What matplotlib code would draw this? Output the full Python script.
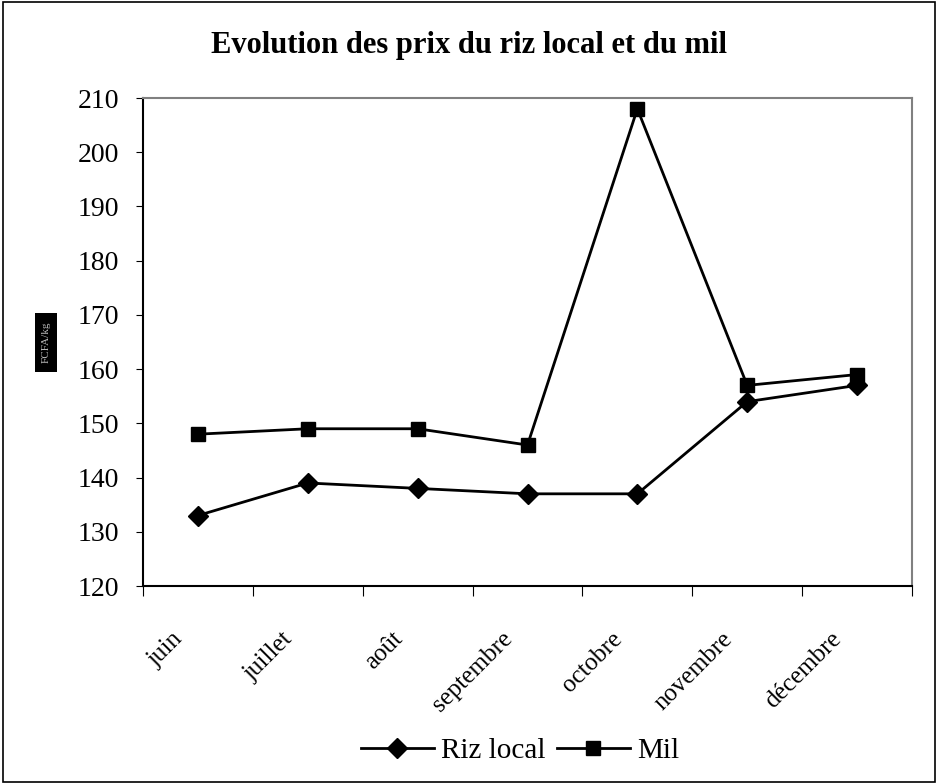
#!/usr/bin/env python3
import matplotlib.pyplot as plt
import numpy as np

# data
mois = ["juin", "juillet", "août", "septembre", "octobre", "novembre", "décembre"]
riz_local = [133, 139, 138, 137, 137, 154, 157]
mil = [148, 149, 149, 146, 208, 157, 159]
y_ticks = [120, 130, 140, 150, 160, 170, 180, 190, 200, 210]

plt.rcParams["font.family"] = ["Liberation Serif", "DejaVu Serif"]

W, H = 938, 784
fig = plt.figure(figsize=(W / 100, H / 100), dpi=100)
ax = fig.add_axes([143 / W, 1 - 586 / H, (912 - 143) / W, (586 - 98) / H])

x = np.arange(len(mois)) + 0.5
ax.plot(x, riz_local, color="black", lw=2, marker="D", ms=10, label="Riz local")
ax.plot(x, mil, color="black", lw=2, marker="s", ms=10, label="Mil")

ax.set_xlim(0, len(mois))
ax.set_ylim(120, 210)
ax.set_yticks(y_ticks)
ax.tick_params(axis="y", labelsize=20, direction="out", length=5, pad=12, color="black")
ax.set_xticks(np.arange(len(mois) + 1))
ax.set_xticklabels([])
ax.tick_params(axis="x", direction="out", length=7, color="black")
for xi, m in zip(x, mois):
    ax.text(xi - 0.24, 112.3, m, rotation=45, ha="right", va="top", fontsize=18,
            rotation_mode="anchor")

for s in ["top", "right"]:
    ax.spines[s].set_color("#808080")
    ax.spines[s].set_linewidth(1.5)
for s in ["left", "bottom"]:
    ax.spines[s].set_color("black")
    ax.spines[s].set_linewidth(1.5)

fig.text(0.5, 1 - 45 / H, "Evolution des prix du riz local et du mil",
         ha="center", va="center", fontsize=22, fontweight="bold")

# garbled axis title in the source, kept as a small dark box
fig.add_artist(plt.Rectangle((35 / W, 1 - 372 / H), 22 / W, 59 / H, transform=fig.transFigure,
                             facecolor="black", edgecolor="none"))
fig.text(46 / W, 1 - 342 / H, "FCFA/kg", rotation=90, ha="center", va="center",
         fontsize=8, color="#bbbbbb")

fig.legend(loc="center", bbox_to_anchor=(520 / W, 1 - 751 / H), ncol=2, frameon=False,
           fontsize=21, handlelength=2.5, columnspacing=0.38, handletextpad=0.25)

# outer frame round the whole chart
fig.add_artist(plt.Rectangle((0.003, 0.003), 0.994, 0.994, transform=fig.transFigure,
                             fill=False, edgecolor="black", lw=1.2))

plt.savefig("out.png", dpi=100)
plt.close()
